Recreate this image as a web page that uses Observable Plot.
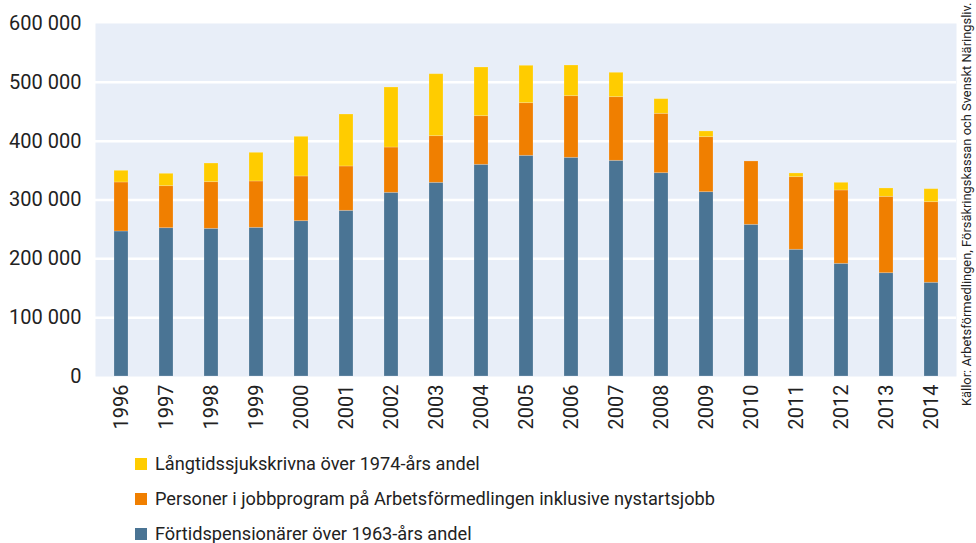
<!DOCTYPE html>
<html><head><meta charset="utf-8">
<script src="https://cdn.jsdelivr.net/npm/d3@7"></script>
<script src="https://cdn.jsdelivr.net/npm/@observablehq/plot@0.6"></script>
<style>
body{margin:0;background:#fff;font-family:Roboto,"Liberation Sans",sans-serif;}
#wrap{position:relative;width:976px;height:543px;overflow:hidden;}
#legend{position:absolute;left:135px;top:446px;font-size:18.2px;color:#222;}
.row{display:flex;align-items:center;height:35px;}
.sw{width:12px;height:12px;margin-right:8px;}
#source{position:absolute;left:961px;top:406px;transform-origin:0 0;transform:rotate(-90deg);font-size:12.9px;color:#222;white-space:nowrap;line-height:1;}
</style></head>
<body><div id="wrap"><div id="chart"></div><div id="legend"></div><div id="source"></div></div>
<script>
const years = ["1996","1997","1998","1999","2000","2001","2002","2003","2004","2005","2006","2007","2008","2009","2010","2011","2012","2013","2014"];
const fortid = [246500,252100,251000,252700,264000,281600,312200,329200,359800,375100,371700,366600,345600,313300,257800,215400,191500,175600,159300];
const jobb = [83300,71400,79300,78800,76000,75400,77000,79300,82700,89500,104800,108200,100900,93500,107700,123400,124700,129800,137000];
const sjuk = [19800,21000,31700,48700,67400,88300,102000,105300,82700,63500,52100,41400,24900,9700,0,6300,13000,14200,22100];
const seriesNames = ["Förtidspensionärer över 1963-års andel","Personer i jobbprogram på Arbetsförmedlingen inklusive nystartsjobb","Långtidssjukskrivna över 1974-års andel"];
const seriesColors = ["#4a7494","#f07f00","#ffcc00"];
const yTicks = [0,100000,200000,300000,400000,500000,600000];
const sourceText = "Källor: Arbetsförmedlingen, Försäkringskassan och Svenskt Näringsliv.";

const seriesValues = [fortid, jobb, sjuk];
const data = [];
seriesNames.forEach((s, i) => years.forEach((y, j) => data.push({year: y, series: s, value: seriesValues[i][j]})));

const fmt = d3.formatLocale({decimal: ",", thousands: " ", grouping: [3], currency: ["", " kr"]}).format(",d");

const chart = Plot.plot({
  width: 976, height: 440,
  marginTop: 23, marginBottom: 64, marginLeft: 95, marginRight: 20,
  style: {fontFamily: "Roboto, 'Liberation Sans', sans-serif", fontSize: "20px", color: "#222", background: "#fff"},
  x: {domain: years, paddingInner: 0.69, paddingOuter: 0.345, label: null},
  y: {domain: [0, 600000], ticks: yTicks, label: null},
  color: {domain: seriesNames, range: seriesColors},
  marks: [
    Plot.frame({fill: "#e8eef8", stroke: null}),
    Plot.gridY(yTicks.slice(1, -1), {stroke: "#fff", strokeOpacity: 1, strokeWidth: 2.5}),
    Plot.barY(data, {x: "year", y: "value", fill: "series", order: seriesNames, stroke: "#fff", strokeOpacity: 0.25, strokeWidth: 0.8}),
    Plot.axisY(yTicks, {tickSize: 0, tickPadding: 14, tickFormat: fmt, fontSize: 20, label: null}),
    Plot.axisX({tickSize: 0, tickPadding: 8, tickRotate: -90, fontSize: 20, label: null})
  ]
});
document.getElementById("chart").appendChild(chart);

const legend = document.getElementById("legend");
[2, 1, 0].forEach(i => {
  const r = document.createElement("div"); r.className = "row";
  const sw = document.createElement("div"); sw.className = "sw"; sw.style.background = seriesColors[i];
  const t = document.createElement("span"); t.textContent = seriesNames[i];
  r.appendChild(sw); r.appendChild(t); legend.appendChild(r);
});
document.getElementById("source").textContent = sourceText;
</script></body></html>
